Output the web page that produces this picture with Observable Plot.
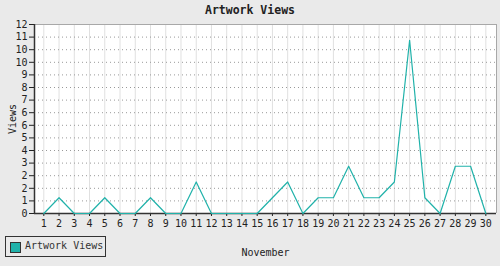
<!DOCTYPE html>
<html><head><meta charset="utf-8">
<script src="https://cdn.jsdelivr.net/npm/d3@7"></script>
<script src="https://cdn.jsdelivr.net/npm/@observablehq/plot@0.6"></script>
<style>
body{margin:0;background:#eaeaea;}
#wrap{position:relative;width:500px;height:266px;background:#eaeaea;overflow:hidden;font-family:"DejaVu Sans Mono",monospace;color:#222;}
#title{position:absolute;top:3px;left:0;width:500px;text-align:center;font-weight:bold;font-size:11.5px;}
#legend{position:absolute;left:5px;top:236px;width:99px;height:19px;border:1px solid #333;box-sizing:content-box;}
#legend .sw{position:absolute;left:4px;top:5px;width:9px;height:9px;background:#20b2aa;border:1px solid #333;}
#legend .tx{position:absolute;left:19px;top:3px;font-size:10px;color:#333;white-space:nowrap;}
#chart{position:absolute;left:0;top:0;}
</style></head>
<body><div id="wrap"><div id="chart"></div><div id="title">Artwork Views</div>
<div id="legend"><div class="sw"></div><div class="tx">Artwork Views</div></div></div>
<script>
const days = d3.range(1, 31);
const views = [0,1,0,0,1,0,0,1,0,0,2,0,0,0,0,1,2,0,1,1,3,1,1,2,11,1,0,3,3,0];
const yTicks = d3.range(0, 16).map(k => k * 12 / 15);
const seriesName = "Artwork Views";
const data = days.map((d, i) => ({day: d, views: views[i]}));

const plot = Plot.plot({
  width: 500, height: 266,
  marginTop: 24, marginBottom: 53, marginLeft: 34, marginRight: 4,
  style: {background: "transparent", fontFamily: "'DejaVu Sans Mono', monospace", fontSize: "10px", color: "#222"},
  x: {domain: [0.39, 30.7]},
  y: {domain: [0, 12]},
  marks: [
    Plot.frame({fill: "white", stroke: "none"}),
    Plot.ruleX(days, {stroke: "#e0e0e0", strokeWidth: 1}),
    Plot.ruleY(yTicks.slice(1), {stroke: "#999", strokeDasharray: "1,3", strokeWidth: 1}),
    Plot.ruleY([12], {stroke: "#a8a8a8"}),
    Plot.ruleX([30.7], {stroke: "#a8a8a8"}),
    Plot.axisY({ticks: yTicks, tickFormat: d => Math.round(d), tickSize: 5, tickPadding: 2, label: "Views", labelAnchor: "center", labelOffset: 26, labelArrow: false, fontSize: 10}),
    Plot.axisX({ticks: days, tickFormat: d => d, tickSize: 3, tickPadding: 3, label: "November", labelAnchor: "center", labelOffset: 42, labelArrow: false, fontSize: 10}),
    Plot.ruleY([0], {stroke: "#333", strokeWidth: 1.5}),
    Plot.ruleX([0.39], {stroke: "#333", strokeWidth: 1.5}),
    Plot.line(data, {x: "day", y: "views", stroke: "#20b2aa", strokeWidth: 1.2})
  ]
});
document.getElementById("chart").appendChild(plot);
</script></body></html>
